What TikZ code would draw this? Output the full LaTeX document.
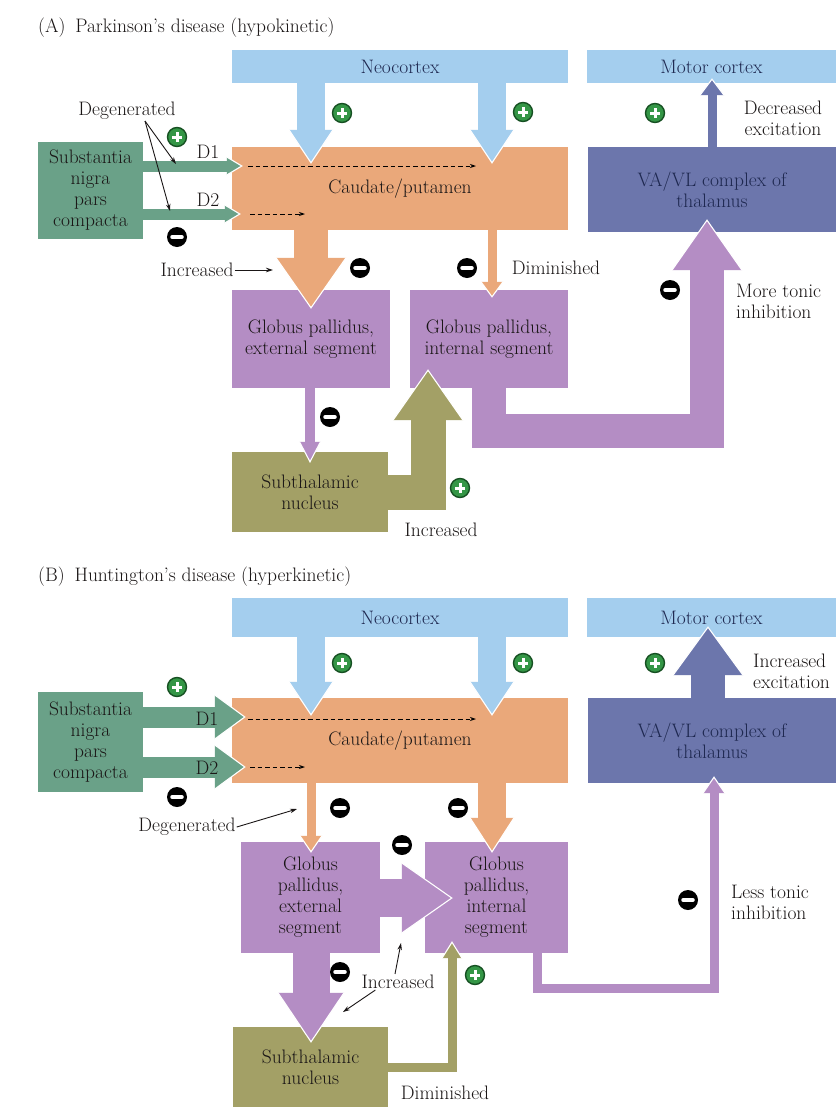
\documentclass[tikz,border=0pt]{standalone}
\usepackage{fontspec}
\usetikzlibrary{arrows.meta,calc}
\definecolor{cBlue}{RGB}{164,206,238}
\definecolor{cOr}{RGB}{234,168,122}
\definecolor{cGr}{RGB}{106,161,136}
\definecolor{cPu}{RGB}{180,141,196}
\definecolor{cOl}{RGB}{163,160,102}
\definecolor{cTh}{RGB}{108,118,172}
\definecolor{cPl}{RGB}{52,150,70}
\definecolor{cPlD}{RGB}{22,80,34}
\definecolor{cTxt}{RGB}{26,22,22}
\definecolor{cNavy}{RGB}{30,40,80}
\newcommand\lbl{\fontsize{19.5}{21}\selectfont\addfontfeatures{FakeBold=0.3}}
\newcommand\headD[4]{\filldraw[fill=#1,draw=white,line width=1.1pt] let \p1=#2 in (\x1-#3pt,\y1+#4pt) -- (\p1) -- (\x1+#3pt,\y1+#4pt);}
\newcommand\headU[4]{\filldraw[fill=#1,draw=white,line width=1.1pt] let \p1=#2 in (\x1-#3pt,\y1-#4pt) -- (\p1) -- (\x1+#3pt,\y1-#4pt);}
\newcommand\headR[4]{\filldraw[fill=#1,draw=white,line width=1.1pt] let \p1=#2 in (\x1-#4pt,\y1+#3pt) -- (\p1) -- (\x1-#4pt,\y1-#3pt);}
\begin{document}
\begin{tikzpicture}[x=1pt,y=1pt,
  box/.style={rectangle,inner sep=0pt,align=center,font=\lbl,text=cTxt},
  lab/.style={font=\lbl,text=cTxt,inner sep=1pt,align=center},
  plusc/.style={circle,fill=cPl,draw=cPlD,line width=1.4pt,minimum size=19pt,inner sep=0pt,
    path picture={\draw[white,line width=3pt] ([xshift=-5pt]path picture bounding box.center) -- ([xshift=5pt]path picture bounding box.center);
                  \draw[white,line width=3pt] ([yshift=-5pt]path picture bounding box.center) -- ([yshift=5pt]path picture bounding box.center);}},
  minusc/.style={circle,fill=black,minimum size=20pt,inner sep=0pt,
    path picture={\draw[white,line width=3.5pt,line cap=round] ([xshift=-5pt]path picture bounding box.center) -- ([xshift=5pt]path picture bounding box.center);}},
  ptr/.style={draw=cTxt,line width=0.9pt,-{Stealth[length=7pt,width=4.5pt]}},
  dasharr/.style={draw=black,line width=0.9pt,dash pattern=on 4.5pt off 3pt,-{Stealth[length=6pt,width=4pt]}}
]
\useasboundingbox (0,0) rectangle (836,-1111);
\fill[white] (0,0) rectangle (836,-1111);

% ================= (A) =================
\node[lab,anchor=base west] (titleA) at (37,-32) {(A)\enspace Parkinson's disease (hypokinetic)};
\node[box,fill=cBlue,text=cNavy,minimum width=336pt,minimum height=33pt] (neoA) at (400,-66.5) {Neocortex};
\node[box,fill=cBlue,text=cNavy,minimum width=249pt,minimum height=33pt] (motA) at (711.5,-66.5) {Motor cortex};
\node[box,fill=cOr,minimum width=336pt,minimum height=83pt] (caudA) at (400,-188.5) {Caudate/putamen};
\node[box,fill=cGr,minimum width=105pt,minimum height=97pt] (snA) at (90.5,-190.5) {Substantia\\nigra\\pars\\compacta};
\node[box,fill=cTh,text=cNavy,minimum width=248pt,minimum height=85pt] (thalA) at (712,-189.5) {VA/VL complex of\\thalamus};
\node[box,fill=cPu,minimum width=158pt,minimum height=98pt] (gpeA) at (311,-339) {Globus pallidus,\\external segment};
\node[box,fill=cPu,minimum width=158pt,minimum height=98pt] (gpiA) at (489,-339) {Globus pallidus,\\internal segment};
\node[box,fill=cOl,minimum width=156pt,minimum height=80pt] (stnA) at (310,-492) {Subthalamic\\nucleus};

% tips
\coordinate (tNA1) at ($(caudA.north)+(-89,-16)$);
\coordinate (tNA2) at ($(caudA.north)+(92,-16)$);
\coordinate (tD1A) at ($(caudA.west)+(10,22.5)$);
\coordinate (tD2A) at ($(caudA.west)+(8,-25.5)$);
\coordinate (tMA) at ($(motA.south)+(0.5,4)$);
\coordinate (tOrA) at ($(gpeA.north)+(0,-18)$);
\coordinate (tDiA) at ($(gpiA.north)+(3,-7)$);
\coordinate (tSA) at ($(stnA.north)+(0,-10)$);
\coordinate (tOA) at ($(gpiA.south)+(-61,18)$);
\coordinate (tPA) at ($(thalA.south)+(-5,12)$);

% neocortex -> caudate
\draw[cBlue,line width=28pt,shorten >=31pt,shorten <=-1pt] (neoA.south -| tNA1) -- (tNA1);
\headD{cBlue}{(tNA1)}{22}{33}
\draw[cBlue,line width=28pt,shorten >=31pt,shorten <=-1pt] (neoA.south -| tNA2) -- (tNA2);
\headD{cBlue}{(tNA2)}{22}{33}
% SNc -> caudate (thin)
\draw[cGr,line width=11pt,shorten >=13pt,shorten <=-1pt] (snA.east |- tD1A) -- (tD1A);
\headR{cGr}{(tD1A)}{9}{15}
\draw[cGr,line width=11pt,shorten >=13pt,shorten <=-1pt] (snA.east |- tD2A) -- (tD2A);
\headR{cGr}{(tD2A)}{9}{15}
% thalamus -> motor cortex (thin)
\draw[cTh,line width=9pt,shorten >=14pt,shorten <=-1pt] (thalA.north) -- (tMA);
\headU{cTh}{(tMA)}{12}{16}
% caudate -> GPe (big)
\draw[cOr,line width=34pt,shorten >=48pt,shorten <=-1pt] (caudA.south -| tOrA) -- (tOrA);
\headD{cOr}{(tOrA)}{35}{50}
% caudate -> GPi (thin)
\draw[cOr,line width=9pt,shorten >=13pt,shorten <=-1pt] (caudA.south -| tDiA) -- (tDiA);
\headD{cOr}{(tDiA)}{11}{15}
% GPe -> STN (thin)
\draw[cPu,line width=10pt,shorten >=18pt,shorten <=-1pt] (gpeA.south -| tSA) -- (tSA);
\headD{cPu}{(tSA)}{10.5}{20}
% STN -> GPi (big olive)
\draw[cOl,line width=35pt,shorten >=48pt,shorten <=-1pt] (stnA.east) -| (tOA);
\headU{cOl}{(tOA)}{35}{50}
% GPi -> thalamus (big purple)
\draw[cPu,line width=34pt,shorten >=48pt,shorten <=-1pt] (gpiA.south) -- ++(0,-43) -| (tPA);
\headU{cPu}{(tPA)}{35}{50}

% dashed
\coordinate (dA1s) at (248,-166); \coordinate (dA1e) at (476,-166);
\coordinate (dA2s) at (250,-214); \coordinate (dA2e) at (305,-214);
\draw[dasharr] (dA1s) -- (dA1e);
\draw[dasharr] (dA2s) -- (dA2e);

% labels A
\node[lab] (degA) at (127,-111) {Degenerated};
\coordinate (degAp) at (145,-121);
\coordinate (degAt1) at (176,-164);
\coordinate (degAt2) at (170,-211);
\draw[ptr] (degAp) -- (degAt1);
\draw[ptr] (degAp) -- (degAt2);
\node[lab] (d1A) at (208,-152) {D1};
\node[lab] (d2A) at (208,-200) {D2};
\node[lab] (incA) at (197,-270) {Increased};
\coordinate (incAt) at (273,-270);
\draw[ptr] (incA.east) -- (incAt);
\node[lab] (dimA) at (556,-268) {Diminished};
\node[lab] (inc2A) at (441,-530) {Increased};
\node[lab] (decA) at (783,-118) {Decreased\\excitation};
\node[lab,align=left,anchor=west] (tonA) at (735,-301) {More tonic\\inhibition};

% signs A
\node[plusc] (pA1) at (177,-137) {};
\node[minusc] (mA1) at (177,-237) {};
\node[plusc] (pA2) at (342,-113) {};
\node[plusc] (pA3) at (523,-112) {};
\node[plusc] (pA4) at (655,-113) {};
\node[minusc] (mA2) at (360,-268) {};
\node[minusc] (mA3) at (467,-268) {};
\node[minusc] (mA4) at (330,-417) {};
\node[plusc] (pA5) at (460,-488) {};
\node[minusc] (mA5) at (670,-290) {};

% ================= (B) =================
\node[lab,anchor=base west] (titleB) at (37,-581) {(B)\enspace Huntington's disease (hyperkinetic)};
\node[box,fill=cBlue,text=cNavy,minimum width=336pt,minimum height=39pt] (neoB) at (400,-617.5) {Neocortex};
\node[box,fill=cBlue,text=cNavy,minimum width=249pt,minimum height=39pt] (motB) at (711.5,-617.5) {Motor cortex};
\node[box,fill=cOr,minimum width=336pt,minimum height=85pt] (caudB) at (400,-740.5) {Caudate/putamen};
\node[box,fill=cGr,minimum width=105pt,minimum height=100pt] (snB) at (90.5,-742) {Substantia\\nigra\\pars\\compacta};
\node[box,fill=cTh,text=cNavy,minimum width=248pt,minimum height=85pt] (thalB) at (712,-740.5) {VA/VL complex of\\thalamus};
\node[box,fill=cPu,minimum width=139pt,minimum height=111pt] (gpeB) at (310.5,-897.5) {Globus\\pallidus,\\external\\segment};
\node[box,fill=cPu,minimum width=143pt,minimum height=111pt] (gpiB) at (496.5,-897.5) {Globus\\pallidus,\\internal\\segment};
\node[box,fill=cOl,minimum width=155pt,minimum height=80pt] (stnB) at (310.5,-1067) {Subthalamic\\nucleus};

\coordinate (tNB1) at ($(caudB.north)+(-89,-17)$);
\coordinate (tNB2) at ($(caudB.north)+(92,-17)$);
\coordinate (tD1B) at ($(caudB.west)+(13,23.5)$);
\coordinate (tD2B) at ($(caudB.west)+(13,-26.5)$);
\coordinate (tMB) at ($(motB.south)+(-3.5,10)$);
\coordinate (tEB) at ($(gpeB.north)+(0.5,-10)$);
\coordinate (tIB) at ($(gpiB.north)+(-4.5,-10)$);
\coordinate (tGGB) at ($(gpiB.west)+(27,-0.5)$);
\coordinate (tSB) at ($(stnB.north)+(0.5,-15)$);
\coordinate (tOB) at ($(gpiB.south)+(-44.5,11)$);
\coordinate (sPB) at ($(gpiB.south)+(40.5,0)$);
\coordinate (tPB) at ($(thalB.south)+(2,6)$);

% neocortex -> caudate
\draw[cBlue,line width=28pt,shorten >=31pt,shorten <=-1pt] (neoB.south -| tNB1) -- (tNB1);
\headD{cBlue}{(tNB1)}{22}{33}
\draw[cBlue,line width=28pt,shorten >=31pt,shorten <=-1pt] (neoB.south -| tNB2) -- (tNB2);
\headD{cBlue}{(tNB2)}{22}{33}
% SNc -> caudate (thick)
\draw[cGr,line width=21pt,shorten >=28pt,shorten <=-1pt] (snB.east |- tD1B) -- (tD1B);
\headR{cGr}{(tD1B)}{22}{30}
\draw[cGr,line width=21pt,shorten >=28pt,shorten <=-1pt] (snB.east |- tD2B) -- (tD2B);
\headR{cGr}{(tD2B)}{22}{30}
% thalamus -> motor cortex (big)
\draw[cTh,line width=34pt,shorten >=46pt,shorten <=-1pt] (thalB.north -| tMB) -- (tMB);
\headU{cTh}{(tMB)}{35}{48}
% caudate -> GPe (thin)
\draw[cOr,line width=9pt,shorten >=14pt,shorten <=-1pt] (caudB.south -| tEB) -- (tEB);
\headD{cOr}{(tEB)}{11}{16}
% caudate -> GPi (big)
\draw[cOr,line width=28pt,shorten >=32pt,shorten <=-1pt] (caudB.south -| tIB) -- (tIB);
\headD{cOr}{(tIB)}{22}{34}
% GPe -> GPi
\draw[cPu,line width=38pt,shorten >=48pt,shorten <=-1pt] (gpeB.east |- tGGB) -- (tGGB);
\headR{cPu}{(tGGB)}{35}{50}
% GPe -> STN
\draw[cPu,line width=37pt,shorten >=47pt,shorten <=-1pt] (gpeB.south -| tSB) -- (tSB);
\headD{cPu}{(tSB)}{33}{49}
% STN -> GPi (thin olive)
\draw[cOl,line width=9pt,shorten >=14pt,shorten <=-1pt] (stnB.east) -| (tOB);
\headU{cOl}{(tOB)}{10}{16}
% GPi -> thalamus (thin purple)
\draw[cPu,line width=9pt,shorten >=14pt,shorten <=-1pt] (sPB) -- ++(0,-35) -| (tPB);
\headU{cPu}{(tPB)}{11}{16}

% dashed
\coordinate (dB1s) at (248,-719); \coordinate (dB1e) at (476,-719);
\coordinate (dB2s) at (250,-767); \coordinate (dB2e) at (305,-767);
\draw[dasharr] (dB1s) -- (dB1e);
\draw[dasharr] (dB2s) -- (dB2e);

% labels B
\node[lab] (d1B) at (207,-719) {D1};
\node[lab] (d2B) at (207,-768) {D2};
\node[lab] (degB) at (187,-827) {Degenerated};
\coordinate (degBt) at (297,-809);
\draw[ptr] (degB.east) -- (degBt);
\node[lab] (incB) at (398,-982) {Increased};
\coordinate (incBt1) at (401,-943);
\coordinate (incBt2) at (343,-1012);
\draw[ptr] ($(incB.north)+(-3,0)$) -- (incBt1);
\draw[ptr] ($(incB.south west)+(15,0)$) -- (incBt2);
\node[lab] (dimB) at (445,-1093) {Diminished};
\node[lab,align=left,anchor=west] (excB) at (752,-671) {Increased\\excitation};
\node[lab,align=left,anchor=west] (tonB) at (730,-902) {Less tonic\\inhibition};

% signs B
\node[plusc] (pB1) at (177,-687) {};
\node[minusc] (mB1) at (177,-797) {};
\node[plusc] (pB2) at (342,-663) {};
\node[plusc] (pB3) at (523,-663) {};
\node[plusc] (pB4) at (655,-663) {};
\node[minusc] (mB2) at (340,-808) {};
\node[minusc] (mB3) at (458,-808) {};
\node[minusc] (mB4) at (402,-845) {};
\node[minusc] (mB5) at (340,-972) {};
\node[plusc] (pB5) at (475,-975) {};
\node[minusc] (mB6) at (688,-900) {};
\end{tikzpicture}
\end{document}
